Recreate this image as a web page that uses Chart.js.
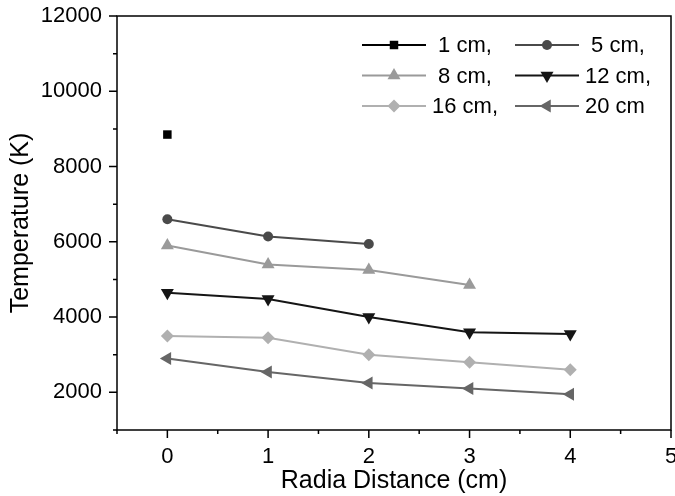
<!DOCTYPE html>
<html>
<head>
<meta charset="utf-8">
<script src="https://cdn.jsdelivr.net/npm/chart.js@4/dist/chart.umd.min.js"></script>
<style>
  body { margin: 0; background: #fff; }
  #wrap { width: 675px; height: 496px; }
</style>
</head>
<body>
<div id="wrap"><canvas id="grafico" width="675" height="496"></canvas></div>
<script>
// radial distance (cm)
const distancias = [0, 1, 2, 3, 4];

// temperature (K) per height above the electrode
const t1cm  = [8850];
const t5cm  = [6600, 6140, 5940];
const t8cm  = [5900, 5400, 5250, 4850];
const t12cm = [4650, 4480, 4000, 3600, 3550];
const t16cm = [3500, 3450, 3000, 2800, 2600];
const t20cm = [2900, 2540, 2250, 2100, 1950];

const etiquetas = [' 1 cm,', ' 5 cm,', ' 8 cm,', '12 cm,', '16 cm,', '20 cm'];

const FUENTE = '"Liberation Sans", Arial, sans-serif';

function puntos(valores) {
    return valores.map((v, i) => ({ x: distancias[i], y: v }));
}

function serie(label, valores, color, estilo, rot, radio) {
    return {
        label: label,
        data: puntos(valores),
        borderColor: color,
        backgroundColor: color,
        borderWidth: 2,
        pointStyle: estilo,
        rotation: rot,
        pointRadius: radio,
        pointBorderWidth: 0,
        pointBackgroundColor: color,
        tension: 0
    };
}

const datasets = [
    serie(etiquetas[0], t1cm,  '#000000', 'rect', 0, 6),
    serie(etiquetas[1], t5cm,  '#4a4a4a', 'circle', 0, 5),
    serie(etiquetas[2], t8cm,  '#9a9a9a', 'triangle', 0, 7.5),
    serie(etiquetas[3], t12cm, '#151515', 'triangle', 180, 7.5),
    serie(etiquetas[4], t16cm, '#b0b0b0', 'rectRot', 0, 6.5),
    serie(etiquetas[5], t20cm, '#666666', 'triangle', 270, 7.5)
];

// frame + outward ticks (long on labelled values, short in between)
const marco = {
    id: 'marco',
    afterDraw(chart) {
        const ctx = chart.ctx;
        const a = chart.chartArea;
        const sx = chart.scales.x, sy = chart.scales.y;
        ctx.save();
        ctx.strokeStyle = '#000';
        ctx.lineWidth = 1.5;
        ctx.strokeRect(a.left, a.top, a.right - a.left, a.bottom - a.top);
        ctx.beginPath();
        sy.ticks.forEach(t => {
            const y = sy.getPixelForValue(t.value);
            const len = t.value % 2000 === 0 ? 8 : 4;
            ctx.moveTo(a.left, y);
            ctx.lineTo(a.left - len, y);
        });
        sx.ticks.forEach(t => {
            const x = sx.getPixelForValue(t.value);
            const len = Number.isInteger(t.value) ? 8 : 4;
            ctx.moveTo(x, a.bottom);
            ctx.lineTo(x, a.bottom + len);
        });
        ctx.stroke();
        ctx.restore();
    }
};

// legend in two columns inside the plot, top right
const leyenda = {
    id: 'leyenda',
    afterDraw(chart) {
        const ctx = chart.ctx;
        const a = chart.chartArea;
        ctx.save();
        ctx.font = '22px ' + FUENTE;
        ctx.textBaseline = 'middle';
        chart.data.datasets.forEach((ds, i) => {
            const col = i % 2, fila = Math.floor(i / 2);
            const x0 = a.right - (col === 0 ? 309 : 156);
            const y = a.top + 29 + fila * 30.5;
            ctx.strokeStyle = ds.borderColor;
            ctx.fillStyle = ds.borderColor;
            ctx.lineWidth = 2;
            ctx.beginPath();
            ctx.moveTo(x0, y);
            ctx.lineTo(x0 + 64, y);
            ctx.stroke();
            Chart.helpers.drawPoint(ctx, {
                pointStyle: ds.pointStyle,
                rotation: ds.rotation,
                radius: ds.pointRadius,
                borderWidth: 0
            }, x0 + 32, y);
            ctx.fillStyle = '#000';
            ctx.fillText(ds.label, x0 + 70, y + 1);
        });
        ctx.restore();
    }
};

function sinRelleno(s) {
    s.paddingTop = 0;
    s.paddingBottom = 0;
    s.paddingLeft = 0;
    s.paddingRight = 0;
}

const ctx = document.getElementById('grafico');

new Chart(ctx, {
    type: 'line',
    data: { datasets: datasets },
    plugins: [marco, leyenda],
    options: {
        responsive: false,
        animation: false,
        layout: {
            autoPadding: false,
            padding: { top: 16, right: 4, left: 0, bottom: 0 }
        },
        plugins: {
            legend: { display: false },
            tooltip: { enabled: false }
        },
        scales: {
            x: {
                type: 'linear',
                min: -0.5,
                max: 5,
                afterFit: s => { s.height = 66; sinRelleno(s); },
                grid: { display: false, drawTicks: false },
                border: { display: false },
                ticks: {
                    stepSize: 0.5,
                    padding: 14,
                    maxRotation: 0,
                    autoSkip: false,
                    color: '#000',
                    font: { family: FUENTE, size: 22 },
                    callback: v => Number.isInteger(v) ? String(v) : ''
                },
                title: {
                    display: true,
                    text: 'Radia Distance (cm)',
                    color: '#000',
                    font: { family: FUENTE, size: 25 },
                    padding: { top: 0, bottom: 0 }
                }
            },
            y: {
                min: 1000,
                max: 12000,
                afterFit: s => { s.width = 117; sinRelleno(s); },
                grid: { display: false, drawTicks: false },
                border: { display: false },
                ticks: {
                    stepSize: 1000,
                    padding: 15,
                    autoSkip: false,
                    color: '#000',
                    font: { family: FUENTE, size: 22 },
                    callback: v => v % 2000 === 0 ? String(v) : ''
                },
                title: {
                    display: true,
                    text: 'Temperature (K)',
                    color: '#000',
                    font: { family: FUENTE, size: 25 },
                    padding: { top: 6, bottom: 0 }
                }
            }
        }
    }
});
</script>
</body>
</html>
